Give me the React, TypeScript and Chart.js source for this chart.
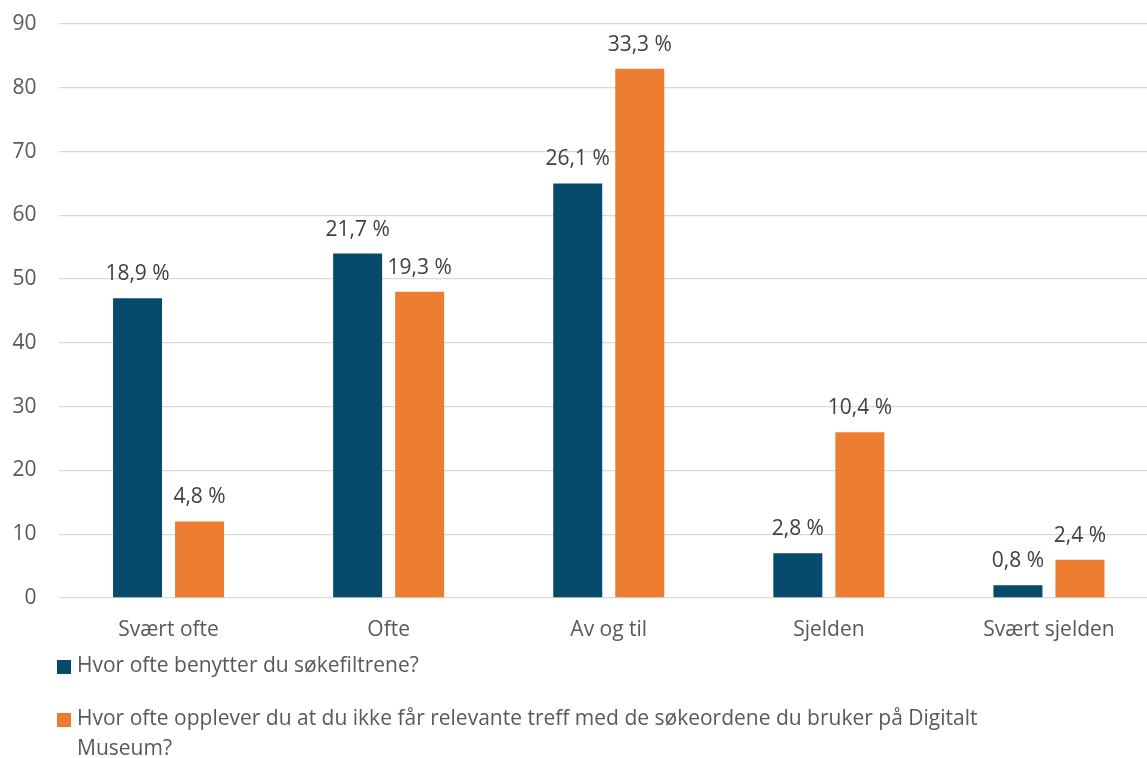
import React, { useEffect, useRef } from "react";
import { Chart, registerables } from "chart.js";

Chart.register(...registerables);

const categories = ["Svært ofte", "Ofte", "Av og til", "Sjelden", "Svært sjelden"];
const seriesNames = [
  "Hvor ofte benytter du søkefiltrene?",
  "Hvor ofte opplever du at du ikke får relevante treff med de søkeordene du bruker på Digitalt Museum?",
];
const legendLines = [
  ["Hvor ofte benytter du søkefiltrene?"],
  ["Hvor ofte opplever du at du ikke får relevante treff med de søkeordene du bruker på Digitalt", "Museum?"],
];
const filterValues = [47, 54, 65, 7, 2];
const relevanceValues = [12, 48, 83, 26, 6];
const filterLabels = ["18,9 %", "21,7 %", "26,1 %", "2,8 %", "0,8 %"];
const relevanceLabels = ["4,8 %", "19,3 %", "33,3 %", "10,4 %", "2,4 %"];
const yTicks = [0, 10, 20, 30, 40, 50, 60, 70, 80, 90];

const BLUE = "#064B6B";
const ORANGE = "#ED7D31";
const FONT = "'Open Sans', sans-serif";

export default function App() {
  const ref = useRef<HTMLCanvasElement | null>(null);

  useEffect(() => {
    document.body.style.margin = "0";
    const canvas = ref.current;
    if (!canvas) return;
    const pctLabels = [filterLabels, relevanceLabels];

    const dataLabelPlugin = {
      id: "dataLabels",
      afterDatasetsDraw(chart: any) {
        const ctx = chart.ctx;
        ctx.save();
        ctx.font = `21px ${FONT}`;
        ctx.fillStyle = "#404040";
        ctx.textAlign = "center";
        ctx.textBaseline = "alphabetic";
        chart.data.datasets.forEach((_ds: any, i: number) => {
          const meta = chart.getDatasetMeta(i);
          meta.data.forEach((bar: any, j: number) => {
            ctx.fillText(pctLabels[i][j], bar.x, bar.y - 18);
          });
        });
        ctx.restore();
      },
    };

    const legendPlugin = {
      id: "customLegend",
      afterDraw(chart: any) {
        const ctx = chart.ctx;
        const colors = [BLUE, ORANGE];
        const left = 57;
        let y = chart.chartArea.bottom + 69;
        ctx.save();
        ctx.font = `21px ${FONT}`;
        ctx.textAlign = "left";
        ctx.textBaseline = "middle";
        legendLines.forEach((lines, i) => {
          ctx.fillStyle = colors[i];
          ctx.fillRect(left, y - 7, 14, 14);
          ctx.fillStyle = "#595959";
          lines.forEach((line, k) => {
            ctx.fillText(line, left + 20, y - 1 + k * 30);
          });
          y += 53;
        });
        ctx.restore();
      },
    };

    const chart = new Chart(canvas, {
      type: "bar",
      data: {
        labels: categories,
        datasets: [
          {
            label: seriesNames[0],
            data: filterValues,
            backgroundColor: BLUE,
            categoryPercentage: 0.5636,
            barPercentage: 0.79,
          },
          {
            label: seriesNames[1],
            data: relevanceValues,
            backgroundColor: ORANGE,
            categoryPercentage: 0.5636,
            barPercentage: 0.79,
          },
        ],
      },
      options: {
        responsive: false,
        animation: false,
        maintainAspectRatio: false,
        layout: { padding: { top: 24, left: 0, right: 0, bottom: 0 } },
        plugins: {
          legend: { display: false },
          tooltip: { enabled: false },
        },
        scales: {
          x: {
            grid: { display: false, drawTicks: false },
            border: { display: false },
            ticks: {
              color: "#595959",
              font: { family: FONT, size: 21 },
              padding: 19,
            },
            afterFit(scale: any) {
              scale.height = 160;
              scale.paddingLeft = 0;
              scale.paddingRight = 0;
            },
          },
          y: {
            min: 0,
            max: 90,
            afterBuildTicks(scale: any) {
              scale.ticks = yTicks.map((v) => ({ value: v }));
            },
            grid: { color: "#D9D9D9", lineWidth: 1.3, drawTicks: false },
            border: { display: false },
            ticks: {
              color: "#595959",
              font: { family: FONT, size: 21 },
              padding: 22,
            },
            afterFit(scale: any) {
              scale.width = 58.5;
              scale.paddingTop = 0;
              scale.paddingBottom = 0;
            },
          },
        },
      },
      plugins: [dataLabelPlugin, legendPlugin],
    });
    return () => chart.destroy();
  }, []);

  return (
    <div style={{ width: 1147, height: 758, overflow: "hidden", position: "relative", background: "#fff" }}>
      <canvas ref={ref} width={1159} height={758} style={{ display: "block", width: 1159, height: 758 }} />
    </div>
  );
}
